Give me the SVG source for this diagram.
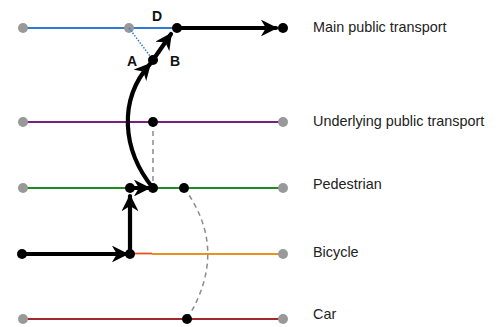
<svg xmlns="http://www.w3.org/2000/svg" width="498" height="327" viewBox="0 0 498 327">
  <style>
    .lane { fill: none; stroke-width: 1.8; }
    .end { fill: #999999; }
    .stop { fill: #000; }
    .route { fill: none; stroke: #000; stroke-width: 4.2; stroke-linecap: round; stroke-linejoin: round; }
    .transfer { fill: none; stroke: #8c8c8c; stroke-width: 1.5; stroke-dasharray: 5 4; }
    .label { font-family: "Liberation Sans", Arial, sans-serif; font-size: 14.4px; fill: #222; }
    .tag { font-family: "Liberation Sans", Arial, sans-serif; font-size: 14px; font-weight: bold; fill: #111; }
  </style>
  <defs>
    <marker id="arrow" viewBox="0 0 10 10" refX="9" refY="5" markerWidth="4" markerHeight="4" markerUnits="strokeWidth" orient="auto">
      <path d="M0,0 L10,5 L0,10 L3,5 z" fill="#000"/>
    </marker>
  </defs>

  <!-- Network layers -->
  <g id="main-public-transport">
    <line class="lane" x1="23" y1="28" x2="177" y2="28" stroke="#2f78d8"/>
    <circle class="end" cx="23" cy="28" r="5"/>
    <circle class="end" cx="129" cy="28" r="5"/>
    <text class="label" x="313" y="32">Main public transport</text>
  </g>
  <g id="underlying-public-transport">
    <line class="lane" x1="23" y1="122" x2="283" y2="122" stroke="#7a1f80"/>
    <circle class="end" cx="23" cy="122" r="5"/>
    <circle class="end" cx="283" cy="122" r="5"/>
    <text class="label" x="313" y="126">Underlying public transport</text>
  </g>
  <g id="pedestrian">
    <line class="lane" x1="23" y1="188" x2="283" y2="188" stroke="#1f8a1f"/>
    <circle class="end" cx="23" cy="188" r="5"/>
    <circle class="end" cx="283" cy="188" r="5"/>
    <text class="label" x="313" y="189">Pedestrian</text>
  </g>
  <g id="bicycle">
    <line class="lane" x1="130" y1="253.5" x2="152" y2="253.5" stroke="#e5541f"/>
    <line class="lane" x1="152" y1="254" x2="283" y2="254" stroke="#ea8f22"/>
    <circle class="end" cx="283" cy="254" r="5"/>
    <text class="label" x="313" y="257">Bicycle</text>
  </g>
  <g id="car">
    <line class="lane" x1="23" y1="319" x2="283" y2="319" stroke="#a32a2a"/>
    <circle class="end" cx="23" cy="319" r="5"/>
    <circle class="end" cx="283" cy="319" r="5"/>
    <text class="label" x="313" y="319">Car</text>
  </g>

  <!-- Connectors: transfers and the travelled route -->
  <g id="connectors">
    <line x1="129" y1="28" x2="153" y2="60" stroke="#2f78d8" stroke-width="1.5" stroke-dasharray="1.5 1.5"/>
    <line class="transfer" x1="153" y1="122" x2="153" y2="188"/>
    <path class="transfer" d="M184,188 Q230,250 187,319"/>

    <path class="route" d="M22,254 L127,254" marker-end="url(#arrow)"/>
    <path class="route" d="M130,254 L130,196" marker-end="url(#arrow)"/>
    <path class="route" d="M130,188 L149,188" marker-end="url(#arrow)"/>
    <path class="route" d="M153,188 C122,150 118,100 150,64" marker-end="url(#arrow)"/>
    <path class="route" d="M153,60 L171,34" marker-end="url(#arrow)"/>
    <path class="route" d="M177,28 L276,28" marker-end="url(#arrow)"/>
  </g>

  <!-- Stops on the route -->
  <g id="stops">
    <circle class="stop" cx="177" cy="28" r="5"/>
    <circle class="stop" cx="283" cy="28" r="5"/>
    <circle class="stop" cx="153" cy="60" r="5"/>
    <circle class="stop" cx="153" cy="122" r="5"/>
    <circle class="stop" cx="130" cy="188" r="5"/>
    <circle class="stop" cx="153" cy="188" r="5"/>
    <circle class="stop" cx="184" cy="188" r="5"/>
    <circle class="stop" cx="22" cy="254" r="5"/>
    <circle class="stop" cx="130" cy="254" r="5"/>
    <circle class="stop" cx="187" cy="319" r="5"/>
  </g>

  <g id="access-labels">
    <text class="tag" x="157" y="21" text-anchor="middle">D</text>
    <text class="tag" x="132" y="66" text-anchor="middle">A</text>
    <text class="tag" x="175" y="66" text-anchor="middle">B</text>
  </g>
</svg>
